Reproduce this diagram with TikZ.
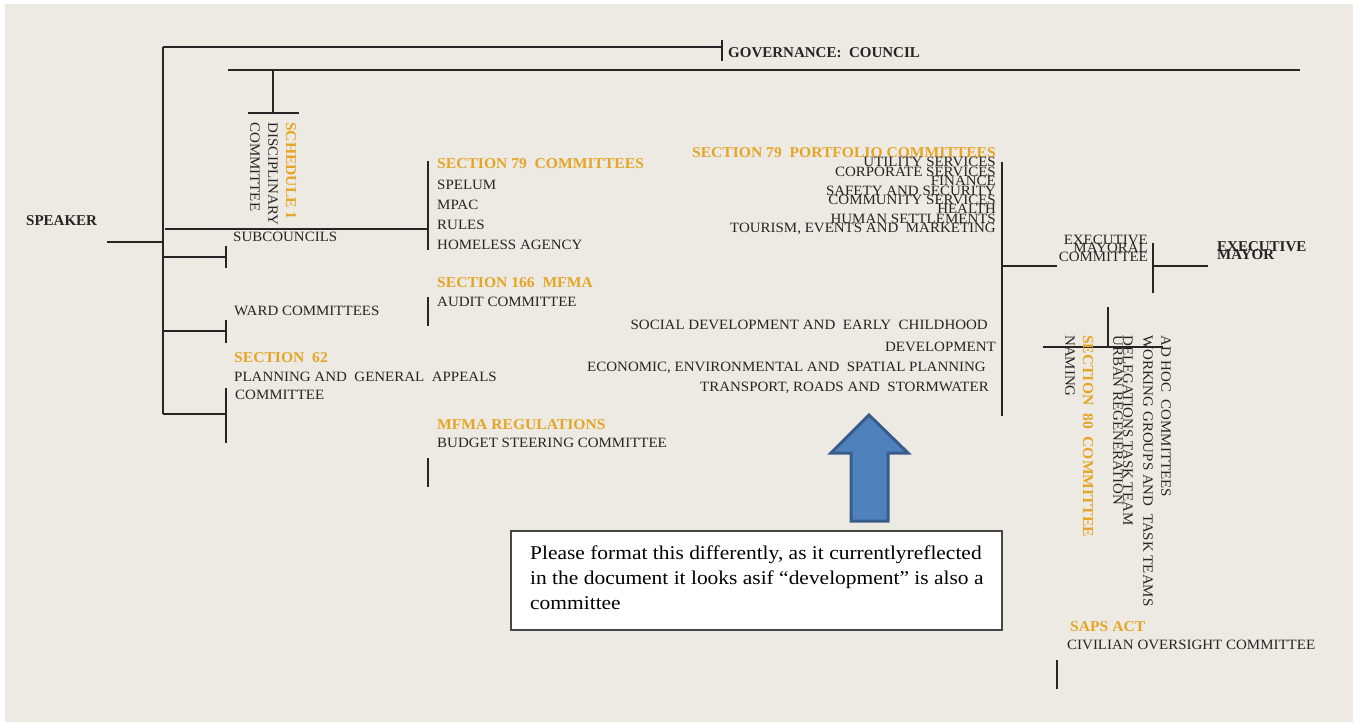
\documentclass[tikz,border=0pt]{standalone}
\usepackage{fontspec}
\setmainfont{Liberation Serif}
\newfontfamily\tfam[FakeStretch=1.055]{Liberation Serif}
\newfontfamily\hfam[FakeStretch=1.04]{Liberation Serif}
\newfontfamily\cfam[FakeStretch=1.1]{Liberation Serif}
\definecolor{bg}{HTML}{EDE9E3}
\definecolor{ink}{HTML}{262424}
\definecolor{orng}{HTML}{E5A526}
\definecolor{arrfill}{HTML}{4F81BD}
\definecolor{arrline}{HTML}{385D8A}
\tikzset{
  ln/.style={draw=ink,line width=2.6pt},
  txt/.style={inner sep=0pt,text=ink,font=\tfam\fontsize{14.2}{16}\selectfont},
  hd/.style={inner sep=0pt,text=orng,font=\hfam\bfseries\fontsize{15}{17}\selectfont},
  bk/.style={inner sep=0pt,text=ink,font=\bfseries\fontsize{15}{17}\selectfont},
  vt/.style={txt,rotate=-90,anchor=west},
  vh/.style={hd,rotate=-90,anchor=west},
  cmt/.style={inner sep=0pt,anchor=base west,text=black,font=\cfam\fontsize{19.5}{25}\selectfont},
}
\begin{document}
\begin{tikzpicture}[x=1pt,y=-1pt]
\useasboundingbox (0,0) rectangle (1361,722);
\fill[white] (0,0) rectangle (1361,722);
\fill[bg] (5,4) rectangle (1353,722);

% coordinates
\coordinate (topL) at (163,47);
\coordinate (topR) at (722,47);
\coordinate (tkA) at (722,40);
\coordinate (tkB) at (722,61);
\coordinate (l2L) at (228,70);
\coordinate (l2R) at (1300,70);
\coordinate (s1a) at (273,70);
\coordinate (s1b) at (273,113);
\coordinate (s1L) at (248,113);
\coordinate (s1R) at (299,113);
\coordinate (spB) at (163,414);
\coordinate (spk) at (107,242);
\coordinate (spkR) at (163,242);
\coordinate (subL) at (165,229);
\coordinate (subR) at (428,229);
\coordinate (v79a) at (428,161);
\coordinate (v79b) at (428,250);
\coordinate (b1L) at (163,257);
\coordinate (b1R) at (226,257);
\coordinate (b1a) at (226,246);
\coordinate (b1b) at (226,268);
\coordinate (b2L) at (163,331);
\coordinate (b2R) at (226,331);
\coordinate (b2a) at (226,320);
\coordinate (b2b) at (226,343);
\coordinate (b3R) at (226,414);
\coordinate (b3a) at (226,388);
\coordinate (b3b) at (226,443);
\coordinate (v166a) at (428,297);
\coordinate (v166b) at (428,326);
\coordinate (vmfa) at (428,458);
\coordinate (vmfb) at (428,487);
\coordinate (pfa) at (1002,162);
\coordinate (pfb) at (1002,416);
\coordinate (pfm) at (1002,266);
\coordinate (emcL) at (1057,266);
\coordinate (ema) at (1153,243);
\coordinate (emb) at (1153,293);
\coordinate (emm) at (1153,266);
\coordinate (emR) at (1208,266);
\coordinate (s80a) at (1108,307);
\coordinate (s80b) at (1108,347);
\coordinate (s80L) at (1043,347);
\coordinate (s80R) at (1163,347);
\coordinate (sapa) at (1057,660);
\coordinate (sapb) at (1057,689);

% lines
\draw[ln] (topL) -- (topR);
\draw[ln] (tkA) -- (tkB);
\draw[ln] (l2L) -- (l2R);
\draw[ln] (s1a) -- (s1b);
\draw[ln] (s1L) -- (s1R);
\draw[ln] (topL) -- (spB);
\draw[ln] (spk) -- (spkR);
\draw[ln] (subL) -- (subR);
\draw[ln] (v79a) -- (v79b);
\draw[ln] (b1L) -- (b1R);
\draw[ln] (b1a) -- (b1b);
\draw[ln] (b2L) -- (b2R);
\draw[ln] (b2a) -- (b2b);
\draw[ln] (spB) -- (b3R);
\draw[ln] (b3a) -- (b3b);
\draw[ln] (v166a) -- (v166b);
\draw[ln] (vmfa) -- (vmfb);
\draw[ln] (pfa) -- (pfb);
\draw[ln] (pfm) -- (emcL);
\draw[ln] (ema) -- (emb);
\draw[ln] (emm) -- (emR);
\draw[ln] (s80a) -- (s80b);
\draw[ln] (s80L) -- (s80R);
\draw[ln] (sapa) -- (sapb);

% texts left
\node[bk,anchor=base west] (gov) at (728,58) {GOVERNANCE:\ \ COUNCIL};
\node[bk,anchor=base west] (speaker) at (26,226) {SPEAKER};
\node[vh] (sch1) at (291,122) {SCHEDULE 1};
\node[vt] (disc) at (273,122) {DISCIPLINARY};
\node[vt] (discc) at (255,122) {COMMITTEE};
\node[txt,anchor=base west] (subc) at (233,242) {SUBCOUNCILS};
\node[hd,anchor=base west] (s79) at (437,169) {SECTION 79\ \ COMMITTEES};
\node[txt,anchor=base west] (spelum) at (437,190) {SPELUM};
\node[txt,anchor=base west] (mpac) at (437,210) {MPAC};
\node[txt,anchor=base west] (rules) at (437,230) {RULES};
\node[txt,anchor=base west] (homeless) at (437,250) {HOMELESS AGENCY};
\node[hd,anchor=base west] (s166) at (437,288) {SECTION 166\ \ MFMA};
\node[txt,anchor=base west] (audit) at (437,307) {AUDIT COMMITTEE};
\node[hd,anchor=base west] (mfmar) at (437,429) {MFMA REGULATIONS};
\node[txt,anchor=base west] (budget) at (437,447) {BUDGET STEERING COMMITTEE};
\node[txt,anchor=base west] (ward) at (234,316) {WARD COMMITTEES};
\node[hd,anchor=base west] (s62) at (234,362) {SECTION\ \ 62};
\node[txt,anchor=base west] (plan) at (234,381) {PLANNING AND\ \ GENERAL\ \ APPEALS};
\node[txt,anchor=base west] (planc) at (235,399) {COMMITTEE};

% portfolio
\node[hd,anchor=base east] (pf) at (996,158) {SECTION 79\ \ PORTFOLIO COMMITTEES};
\node[txt,anchor=base east] (util) at (996,167) {UTILITY SERVICES};
\node[txt,anchor=base east] (corp) at (996,177) {CORPORATE SERVICES};
\node[txt,anchor=base east] (fin) at (996,186) {FINANCE};
\node[txt,anchor=base east] (safe) at (996,196) {SAFETY AND SECURITY};
\node[txt,anchor=base east] (comm) at (996,205) {COMMUNITY SERVICES};
\node[txt,anchor=base east] (health) at (996,214) {HEALTH};
\node[txt,anchor=base east] (human) at (996,224) {HUMAN SETTLEMENTS};
\node[txt,anchor=base east] (tour) at (996,233) {TOURISM, EVENTS AND\ \ MARKETING};
\node[txt,anchor=base east] (social) at (988,330) {SOCIAL DEVELOPMENT AND\ \ EARLY\ \ CHILDHOOD};
\node[txt,anchor=base east] (dev) at (996,351) {DEVELOPMENT};
\node[txt,anchor=base east] (econ) at (986,371) {ECONOMIC, ENVIRONMENTAL AND\ \ SPATIAL PLANNING};
\node[txt,anchor=base east] (trans) at (989,391) {TRANSPORT, ROADS AND\ \ STORMWATER};

% executive
\node[txt,anchor=base east] (emc1) at (1148,245) {EXECUTIVE};
\node[txt,anchor=base east] (emc2) at (1148,253) {MAYORAL};
\node[txt,anchor=base east] (emc3) at (1148,262) {COMMITTEE};
\node[bk,anchor=base west] (em1) at (1217,252) {EXECUTIVE};
\node[bk,anchor=base west] (em2) at (1217,260) {MAYOR};

% section 80
\node[vt] (naming) at (1070,335) {NAMING};
\node[vh] (s80) at (1088,335) {SECTION\ \ 80\ \ COMMITTEE};
\node[vt] (urban) at (1118,335) {URBAN REGENERATION};
\node[vt] (deleg) at (1128,335) {DELEGATIONS TASK TEAM};
\node[vt] (work) at (1148,335) {WORKING GROUPS AND\ \ TASK TEAMS};
\node[vt] (adhoc) at (1166,335) {AD HOC\ \ COMMITTEES};

% saps
\node[hd,anchor=base west] (saps) at (1070,631) {SAPS ACT};
\node[txt,anchor=base west] (civ) at (1067,649) {CIVILIAN OVERSIGHT COMMITTEE};

% arrow
\draw[fill=arrfill,draw=arrline,line width=3pt,line join=miter]
  (869,415) -- (908,453) -- (888,453) -- (888,521) -- (851,521) -- (851,453) -- (831,453) -- cycle;

% comment box
\node[draw=ink!85,fill=white,line width=1.5pt,minimum width=491pt,minimum height=99pt,anchor=north west,inner sep=0pt] (box) at (510,530) {};
\node[cmt] (c1) at (530,559) {Please format this differently, as it currentlyreflected};
\node[cmt] (c2) at (530,584) {in the document it looks asif “development” is also a};
\node[cmt] (c3) at (530,609) {committee};
\end{tikzpicture}
\end{document}
